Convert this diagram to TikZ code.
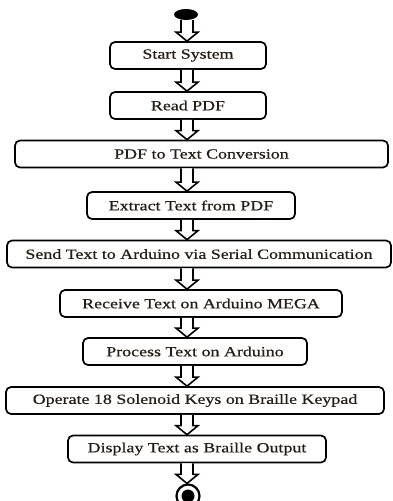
\documentclass[tikz,border=0pt]{standalone}
\usepackage{fontspec}
\newfontfamily\boxfont[FakeStretch=1.28,FakeBold=0.6]{Liberation Serif}
\usetikzlibrary{calc,shapes.geometric}
\definecolor{inkbrown}{RGB}{38,30,22}
\tikzset{
  stepbox/.style={draw, line width=1.7pt, rounded corners=5pt, minimum height=27pt,
    inner sep=0pt, font=\boxfont\fontsize{14}{16}\selectfont, text=inkbrown, fill=white},
  flow/.style={line width=1.6pt, fill=white, line join=miter},
}
% hollow block arrow from the bottom of #1 to the top of #2, along the axis
\newcommand\flowarrow[2]{%
  \draw[flow] let \p1=(#1.south -| axis), \p2=(#2.north -| axis) in
    (\x1-6pt,\y1) -- (\x1-6pt,\y2+9pt) -- (\x1-11pt,\y2+9pt) -- (\x1,\y2)
    -- (\x1+11pt,\y2+9pt) -- (\x1+6pt,\y2+9pt) -- (\x1+6pt,\y1);}
\begin{document}
\begin{tikzpicture}[x=1pt,y=-1pt]
  \useasboundingbox (0,0) rectangle (393,501);
  \coordinate (axis) at (187,0);

  \node[ellipse, fill=black, minimum width=24pt, minimum height=11pt, inner sep=0pt] (start) at (186,14.5) {};

  \node[stepbox, minimum width=156pt] (s1) at (188,55.5) {Start System};
  \node[stepbox, minimum width=156pt] (s2) at (188,105.5) {Read PDF};
  \node[stepbox, minimum width=373pt] (s3) at (201.5,154) {PDF to Text Conversion};
  \node[stepbox, minimum width=208pt] (s4) at (191,205.5) {Extract Text from PDF};
  \node[stepbox, minimum width=384pt] (s5) at (199,254) {Send Text to Arduino via Serial Communication};
  \node[stepbox, minimum width=282pt] (s6) at (201,303.5) {Receive Text on Arduino MEGA};
  \node[stepbox, minimum width=224pt] (s7) at (195,351.5) {Process Text on Arduino};
  \node[stepbox, minimum width=378pt] (s8) at (195,400.5) {Operate 18 Solenoid Keys on Braille Keypad};
  \node[stepbox, minimum width=258pt] (s9) at (197,449) {Display Text as Braille Output};

  \node[circle, draw, line width=2.2pt, minimum size=23pt, inner sep=0pt] (end) at (188,496) {};
  \node[circle, fill=black, minimum size=13pt, inner sep=0pt] (endcore) at (end.center) {};

  \flowarrow{start}{s1}
  \flowarrow{s1}{s2}
  \flowarrow{s2}{s3}
  \flowarrow{s3}{s4}
  \flowarrow{s4}{s5}
  \flowarrow{s5}{s6}
  \flowarrow{s6}{s7}
  \flowarrow{s7}{s8}
  \flowarrow{s8}{s9}
  \flowarrow{s9}{end}
\end{tikzpicture}
\end{document}
